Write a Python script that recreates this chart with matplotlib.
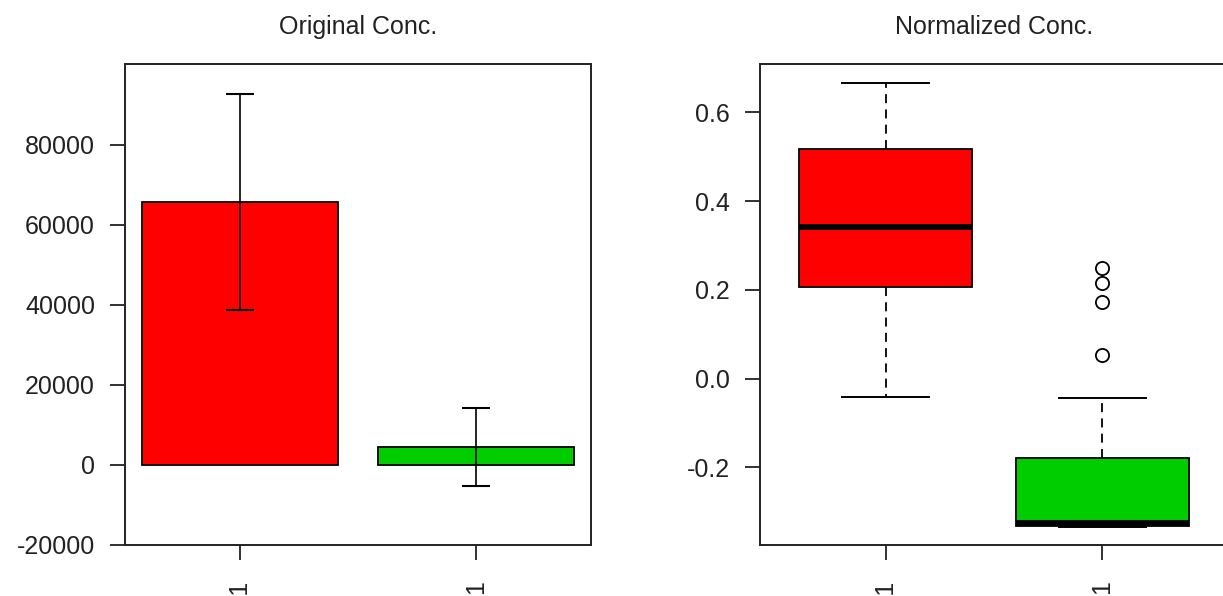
import matplotlib
matplotlib.use("Agg")
import matplotlib.pyplot as plt
import numpy as np

plt.rcParams['font.family'] = ['Liberation Sans', 'DejaVu Sans']
plt.rcParams['lines.scale_dashes'] = False

# ---- data ----
group_labels = ["-1", "1"]
bar_colors = ["#FF0000", "#00CD00"]

# left panel: mean concentration with error
orig_means = [65750, 4450]
orig_errs = [26900, 9700]

# right panel: box statistics [whislo, q1, med, q3, whishi]
norm_red_stats = [-0.041, 0.207, 0.341, 0.517, 0.667]
norm_green_stats = [-0.335, -0.332, -0.325, -0.180, -0.044]
norm_red_fliers = []
norm_green_fliers = [0.249, 0.215, 0.173, 0.053]

left_yticks = [-20000, 0, 20000, 40000, 60000, 80000]
right_yticks = [-0.2, 0.0, 0.2, 0.4, 0.6]

W, H = 1223, 596
fig = plt.figure(figsize=(W / 100, H / 100), dpi=100)

FS = 18
spine_lw = 1.4


def style_axes(ax):
    for s in ax.spines.values():
        s.set_linewidth(spine_lw)
        s.set_color("#222222")
    ax.tick_params(axis='both', direction='out', length=10.8, width=1.3,
                   labelsize=FS, color="#222222", labelcolor="#222222")
    ax.tick_params(axis='y', pad=10.8)
    ax.tick_params(axis='x', pad=14.5)


# ---- left panel ----
ax1 = fig.add_axes([125 / W, 51 / H, 466 / W, 481 / H])
xpos = [0.7, 1.9]
ax1.bar(xpos, orig_means, width=1.0, color=bar_colors, edgecolor="black",
        linewidth=1.3, zorder=2)
ax1.errorbar(xpos, orig_means, yerr=orig_errs, fmt='none', ecolor="black",
             elinewidth=1.2, capsize=10.4, capthick=1.5, zorder=3)
ax1.set_xlim(0.112, 2.488)
ax1.set_ylim(-20000, 100250)
ax1.set_yticks(left_yticks)
ax1.set_yticklabels([str(v) for v in left_yticks])
ax1.set_xticks(xpos)
ax1.set_xticklabels(group_labels, rotation=90, va='top', ha='center')
style_axes(ax1)
ax1.set_title("Original Conc.", fontsize=FS, pad=21.5, color="#222222")

# ---- right panel ----
ax2 = fig.add_axes([760 / W, 51 / H, 468 / W, 481 / H])
stats = []
for st, fl, lab in [(norm_red_stats, norm_red_fliers, group_labels[0]),
                    (norm_green_stats, norm_green_fliers, group_labels[1])]:
    stats.append(dict(whislo=st[0], q1=st[1], med=st[2], q3=st[3],
                      whishi=st[4], fliers=fl, label=lab))
bp = ax2.bxp(stats, positions=[1, 2], widths=0.8, capwidths=0.4,
             patch_artist=True, showfliers=True,
             boxprops=dict(edgecolor="black", linewidth=1.3),
             medianprops=dict(color="black", linewidth=4.2,
                              solid_capstyle='butt'),
             whiskerprops=dict(color="black", linewidth=1.3,
                               linestyle=(0, (6.5, 4.5))),
             capprops=dict(color="black", linewidth=1.4),
             flierprops=dict(marker='o', markerfacecolor='none',
                             markeredgecolor='black', markersize=9.5,
                             markeredgewidth=1.3))
for patch, c in zip(bp['boxes'], bar_colors):
    patch.set_facecolor(c)
ax2.set_xlim(0.42, 2.58)
ax2.set_ylim(-0.375, 0.709)
ax2.set_yticks(right_yticks)
ax2.set_yticklabels([f"{v:.1f}" for v in right_yticks])
ax2.set_xticks([1, 2])
ax2.set_xticklabels(group_labels, rotation=90, va='top', ha='center')
style_axes(ax2)
ax2.set_title("Normalized Conc.", fontsize=FS, pad=21.5, color="#222222")

fig.savefig("out.png", dpi=100)
